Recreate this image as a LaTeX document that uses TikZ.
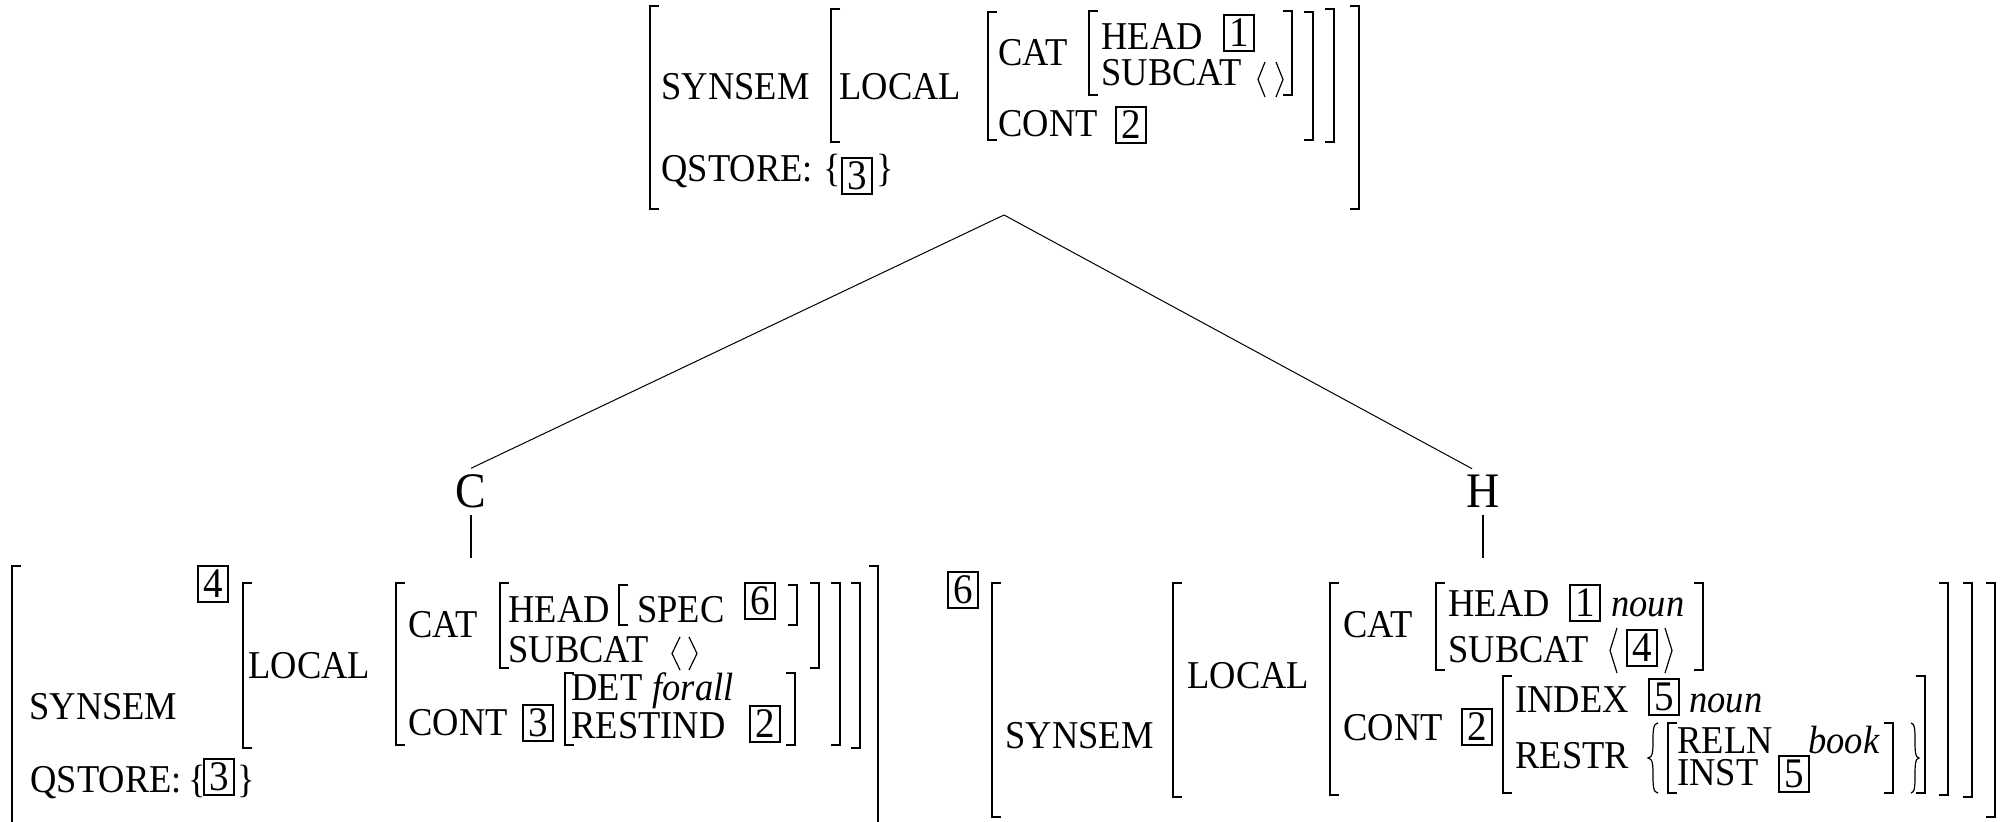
\documentclass[tikz,border=0pt]{standalone}
\usepackage{fontspec}
\setmainfont{Liberation Serif}
\usepackage{graphicx}
\newcommand\vstr[1]{\scalebox{1}[1.08]{#1}}
\newcommand\avmfont{\fontsize{18.25pt}{20pt}\selectfont}
\newcommand\tagfont{\fontsize{19.5pt}{21pt}\selectfont}
\newcommand\LBr[3]{\draw[br] (#1,#2) ++(9,0) -- (#1,#2) -- (#1,#3) -- ++(9,0);}
\newcommand\RBr[3]{\draw[br] (#1,#2) ++(-9,0) -- (#1,#2) -- (#1,#3) -- ++(-9,0);}
\newcommand\Ang[6]{\draw[br] (#2,#5) -- (#1,{(#5+#6)/2}) -- (#2,#6); \draw[br] (#3,#5) -- (#4,{(#5+#6)/2}) -- (#3,#6);}
\newcommand\Curl[4]{\draw[br] (#2,#3) .. controls (#1,#3) and (#2,{(#3+#4)/2}) .. (#1,{(#3+#4)/2}) .. controls (#2,{(#3+#4)/2}) and (#1,#4) .. (#2,#4);}
\begin{document}
\begin{tikzpicture}[x=0.5pt,y=-0.5pt,
  br/.style={line width=0.6pt},
  avm/.style={anchor=base west, inner sep=0pt, font=\avmfont},
  tag/.style={draw, line width=0.6pt, minimum width=15pt, minimum height=18pt, inner sep=0pt, font=\tagfont},
  lab/.style={anchor=base, inner xsep=0pt, inner ysep=3.2pt, font=\fontsize{23pt}{26pt}\selectfont},
  edge/.style={line width=0.5pt}]
\useasboundingbox (0,0) rectangle (2011,822);

% ---------------- top AVM ----------------
\LBr{650}{6}{209} \RBr{1359}{6}{209}
\LBr{831}{9}{142} \RBr{1334}{9}{142}
\LBr{988}{12}{140} \RBr{1313}{12}{140}
\LBr{1089}{11}{95} \RBr{1292}{11}{95}
\node[avm] (tSyn) at (661,100) {\vstr{SYNSEM}};
\node[avm] (tLoc) at (839,100) {\vstr{LOCAL}};
\node[avm] (tCat) at (998,66) {\vstr{CAT}};
\node[avm] (tHead) at (1101,50) {\vstr{HEAD}};
\node[tag] (tB1) at (1239,33) {\vstr{1}};
\node[avm] (tSub) at (1101,86) {\vstr{SUBCAT}};
\Ang{1258}{1265}{1276}{1283}{62}{97}
\node[avm] (tCont) at (998,137) {\vstr{CONT}};
\node[tag] (tB2) at (1131,125) {\vstr{2}};
\node[avm] (tQs) at (661,182) {\vstr{QSTORE:}};
\node[avm] (tQl) at (823,182) {\vstr{\{}};
\node[tag] (tB3) at (857,176) {\vstr{3}};
\node[avm] (tQr) at (876,182) {\vstr{\}}};

% ---------------- tree ----------------
\coordinate (apex) at (1004,215);
\node[lab] (C) at (471,508) {\vstr{C}};
\node[lab] (H) at (1483,508) {\vstr{H}};
\coordinate (cs) at (471,558);
\coordinate (hs) at (1483,558);
\draw[edge] (apex) -- (C.north);
\draw[edge] (apex) -- ([xshift=-5.5pt]H.north);
\draw[br] (C.south) -- (cs);
\draw[br] (H.south) -- (hs);

% ---------------- bottom-left AVM ----------------
\draw[br] (12,566) ++(9,0) -- (12,566) -- (12,822);
\draw[br] (878,566) ++(-9,0) -- (878,566) -- (878,822);
\LBr{243}{583}{748} \RBr{860}{583}{748}
\LBr{396}{583}{745} \RBr{840}{583}{745}
\LBr{500}{583}{668} \RBr{819}{583}{668}
\LBr{619}{585}{625} \RBr{797}{585}{625}
\LBr{565}{673}{745} \RBr{795}{673}{745}
\node[tag] (lB4) at (213,584) {\vstr{4}};
\node[avm] (lSyn) at (29,719) {\vstr{SYNSEM}};
\node[avm] (lQs) at (30,792) {\vstr{QSTORE:}};
\node[avm] (lQl) at (188,792) {\vstr{\{}};
\node[tag] (lB3q) at (219,777) {\vstr{3}};
\node[avm] (lQr) at (237,792) {\vstr{\}}};
\node[avm] (lLoc) at (248,678) {\vstr{LOCAL}};
\node[avm] (lCat) at (408,638) {\vstr{CAT}};
\node[avm] (lHead) at (508,623) {\vstr{HEAD}};
\node[avm] (lSpec) at (637,623) {\vstr{SPEC}};
\node[tag] (lB6) at (760,601) {\vstr{6}};
\node[avm] (lSub) at (508,662) {\vstr{SUBCAT}};
\Ang{672}{680}{689}{697}{637}{670}
\node[avm] (lCont) at (408,735) {\vstr{CONT}};
\node[tag] (lB3) at (538,723) {\vstr{3}};
\node[avm] (lDet) at (571,700) {\vstr{DET}};
\node[avm] (lForall) at (652,700) {\vstr{\textit{forall}}};
\node[avm] (lRest) at (571,738) {\vstr{RESTIND}};
\node[tag] (lB2) at (765,724) {\vstr{2}};

% ---------------- bottom-right AVM ----------------
\node[tag] (rB6) at (963,590) {\vstr{6}};
\LBr{992}{583}{817} \RBr{1995}{583}{817}
\LBr{1173}{583}{797} \RBr{1972}{583}{797}
\LBr{1330}{583}{795} \RBr{1948}{583}{795}
\LBr{1436}{583}{670} \RBr{1703}{583}{670}
\LBr{1503}{676}{793} \RBr{1925}{676}{793}
\LBr{1668}{723}{793} \RBr{1893}{723}{793}
\Curl{1648}{1658}{723}{793}
\Curl{1919}{1911}{723}{793}
\node[avm] (rSyn) at (1005,748) {\vstr{SYNSEM}};
\node[avm] (rLoc) at (1187,688) {\vstr{LOCAL}};
\node[avm] (rCat) at (1343,638) {\vstr{CAT}};
\node[avm] (rHead) at (1448,617) {\vstr{HEAD}};
\node[tag] (rB1) at (1585,603) {\vstr{1}};
\node[avm] (rNoun1) at (1611,617) {\vstr{\textit{noun}}};
\node[avm] (rSub) at (1448,662) {\vstr{SUBCAT}};
\Ang{1610}{1617}{1665}{1672}{628}{673}
\node[tag] (rB4) at (1642,648) {\vstr{4}};
\node[avm] (rCont) at (1343,740) {\vstr{CONT}};
\node[tag] (rB2) at (1477,727) {\vstr{2}};
\node[avm] (rIndex) at (1515,712) {\vstr{INDEX}};
\node[tag] (rB5) at (1664,697) {\vstr{5}};
\node[avm] (rNoun2) at (1689,712) {\vstr{\textit{noun}}};
\node[avm] (rRestr) at (1515,768) {\vstr{RESTR}};
\node[avm] (rReln) at (1677,753) {\vstr{RELN}};
\node[avm] (rBook) at (1808,753) {\vstr{\textit{book}}};
\node[avm] (rInst) at (1677,785) {\vstr{INST}};
\node[tag] (rB5b) at (1794,774) {\vstr{5}};
\end{tikzpicture}
\end{document}
